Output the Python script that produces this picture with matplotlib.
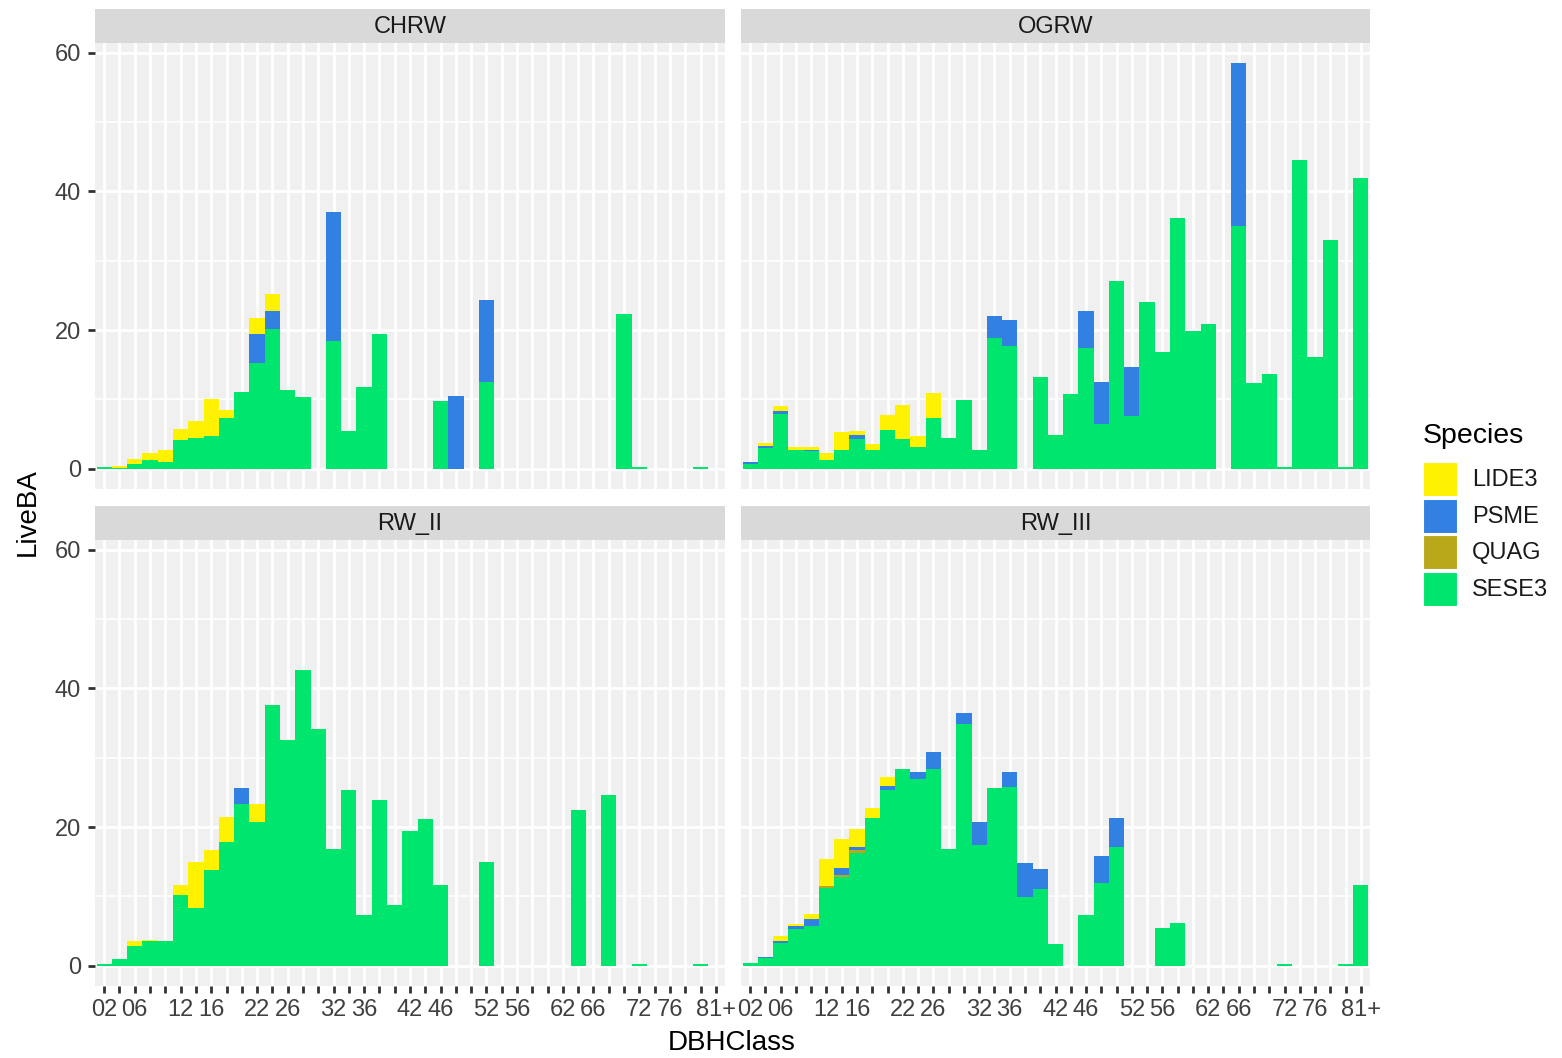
# coding: utf-8

import matplotlib
matplotlib.use("Agg")
import matplotlib.pyplot as plt
from matplotlib.patches import Rectangle

plt.rcParams["font.family"] = ["Liberation Sans", "DejaVu Sans"]

# ---- data: live basal area by DBH class, stacked by species

dbh_class = ["02", "04", "06", "08", "10", "12", "14", "16", "18", "20",
             "22", "24", "26", "28", "30", "32", "34", "36", "38", "40",
             "42", "44", "46", "48", "50", "52", "54", "56", "58", "60",
             "62", "64", "66", "68", "70", "72", "74", "76", "78", "80", "81+"]

dbh_labels = ["02", "", "06", "", "", "12", "", "16", "", "",
              "22", "", "26", "", "", "32", "", "36", "", "",
              "42", "", "46", "", "", "52", "", "56", "", "",
              "62", "", "66", "", "", "72", "", "76", "", "", "81+"]

species = ["LIDE3", "PSME", "QUAG", "SESE3"]
species_color = {"LIDE3": "#FFF200", "PSME": "#3180E2",
                 "QUAG": "#B8A81A", "SESE3": "#00E56E"}

panels = ["CHRW", "OGRW", "RW_II", "RW_III"]

chrw_sese3 = [0.2, 0.15, 0.7, 1.2, 1.0, 4.1, 4.5, 4.7, 7.3, 11.0,
              15.2, 20.1, 11.4, 10.3, 0, 18.4, 5.4, 11.8, 19.5, 0,
              0, 0, 9.7, 0, 0, 12.5, 0, 0, 0, 0,
              0, 0, 0, 0, 22.3, 0.2, 0, 0, 0, 0.2, 0]
chrw_quag = [0] * 41
chrw_psme = [0, 0, 0, 0, 0, 0, 0, 0, 0, 0,
             4.2, 2.6, 0, 0, 0, 18.6, 0, 0, 0, 0,
             0, 0, 0, 10.5, 0, 11.8, 0, 0, 0, 0,
             0, 0, 0, 0, 0, 0, 0, 0, 0, 0, 0]
chrw_lide3 = [0, 0.25, 0.7, 1.1, 1.7, 1.7, 2.4, 5.4, 1.2, 0,
              2.3, 2.5, 0, 0, 0, 0, 0, 0, 0, 0,
              0, 0, 0, 0, 0, 0, 0, 0, 0, 0,
              0, 0, 0, 0, 0, 0, 0, 0, 0, 0, 0]

ogrw_sese3 = [0.7, 3.0, 7.9, 2.7, 2.5, 1.2, 2.7, 4.3, 2.7, 5.6,
              4.3, 3.2, 7.3, 4.5, 9.9, 2.7, 18.8, 17.7, 0, 13.2,
              4.9, 10.8, 17.4, 6.5, 27.1, 7.6, 24.1, 16.9, 36.2, 19.8,
              20.9, 0, 35.0, 12.3, 13.7, 0.2, 44.5, 16.1, 33.0, 0.2, 41.9]
ogrw_quag = [0] * 41
ogrw_psme = [0.3, 0.25, 0.5, 0, 0.25, 0, 0, 0.6, 0, 0,
             0, 0, 0, 0, 0, 0, 3.3, 3.7, 0, 0,
             0, 0, 5.4, 6.0, 0, 7.1, 0, 0, 0, 0,
             0, 0, 23.5, 0, 0, 0, 0, 0, 0, 0, 0]
ogrw_lide3 = [0, 0.45, 0.7, 0.5, 0.4, 1.0, 2.6, 0.6, 0.9, 2.2,
              4.9, 1.45, 3.6, 0, 0, 0, 0, 0, 0, 0,
              0, 0, 0, 0, 0, 0, 0, 0, 0, 0,
              0, 0, 0, 0, 0, 0, 0, 0, 0, 0, 0]

rw2_sese3 = [0.3, 1.0, 2.9, 3.5, 3.6, 10.2, 8.4, 13.8, 17.8, 23.4,
             20.8, 37.6, 32.5, 42.6, 34.1, 16.8, 25.4, 7.3, 23.9, 8.8,
             19.5, 21.2, 11.6, 0, 0, 14.9, 0, 0, 0, 0,
             0, 22.5, 0, 24.7, 0, 0.2, 0, 0, 0, 0.2, 0]
rw2_quag = [0] * 41
rw2_psme = [0, 0, 0, 0, 0, 0, 0, 0, 0, 2.2,
            0, 0, 0, 0, 0, 0, 0, 0, 0, 0,
            0, 0, 0, 0, 0, 0, 0, 0, 0, 0,
            0, 0, 0, 0, 0, 0, 0, 0, 0, 0, 0]
rw2_lide3 = [0, 0, 0.7, 0.25, 0, 1.4, 6.5, 2.9, 3.6, 0,
             2.6, 0, 0, 0, 0, 0, 0, 0, 0, 0,
             0, 0, 0, 0, 0, 0, 0, 0, 0, 0,
             0, 0, 0, 0, 0, 0, 0, 0, 0, 0, 0]

rw3_sese3 = [0.33, 1.05, 3.35, 5.35, 5.8, 11.2, 12.8, 16.3, 21.3, 25.4,
             28.4, 26.9, 28.4, 16.9, 34.9, 17.4, 25.6, 25.8, 9.95, 11.0,
             3.2, 0, 7.3, 12.0, 17.1, 0, 0, 5.4, 6.1, 0,
             0, 0, 0, 0, 0, 0.2, 0, 0, 0, 0.2, 11.7]
rw3_quag = [0, 0, 0, 0, 0, 0.3, 0.25, 0.35, 0, 0,
            0, 0, 0, 0, 0, 0, 0, 0, 0, 0,
            0, 0, 0, 0, 0, 0, 0, 0, 0, 0,
            0, 0, 0, 0, 0, 0, 0, 0, 0, 0, 0]
rw3_psme = [0, 0.25, 0.25, 0.4, 0.9, 0, 1.0, 0.5, 0, 0.6,
            0, 1.1, 2.5, 0, 1.5, 3.4, 0, 2.2, 4.8, 2.9,
            0, 0, 0, 3.8, 4.2, 0, 0, 0, 0, 0,
            0, 0, 0, 0, 0, 0, 0, 0, 0, 0, 0]
rw3_lide3 = [0, 0, 0.7, 0.25, 0.8, 3.9, 4.2, 2.6, 1.4, 1.3,
             0, 0, 0, 0, 0, 0, 0, 0, 0, 0,
             0, 0, 0, 0, 0, 0, 0, 0, 0, 0,
             0, 0, 0, 0, 0, 0, 0, 0, 0, 0, 0]

panel_data = {
    "CHRW": {"SESE3": chrw_sese3, "QUAG": chrw_quag, "PSME": chrw_psme, "LIDE3": chrw_lide3},
    "OGRW": {"SESE3": ogrw_sese3, "QUAG": ogrw_quag, "PSME": ogrw_psme, "LIDE3": ogrw_lide3},
    "RW_II": {"SESE3": rw2_sese3, "QUAG": rw2_quag, "PSME": rw2_psme, "LIDE3": rw2_lide3},
    "RW_III": {"SESE3": rw3_sese3, "QUAG": rw3_quag, "PSME": rw3_psme, "LIDE3": rw3_lide3},
}

W, H = 1562.0, 1058.0

# panel boxes in pixels: left, top, right, bottom
panel_box = {
    "CHRW": (95, 43, 725, 489),
    "OGRW": (741, 43, 1370, 489),
    "RW_II": (95, 540, 725, 986),
    "RW_III": (741, 540, 1370, 986),
}
STRIP_H = 34


def fig_rect(l, t, r, b):
    return [l / W, 1 - b / H, (r - l) / W, (b - t) / H]


def stack_totals():
    tot = []
    for p in panels:
        d = panel_data[p]
        for i in range(len(dbh_class)):
            tot.append(sum(d[s][i] for s in species))
    return max(tot)


def draw_panel(fig, name, ymax, show_x, show_y):
    l, t, r, b = panel_box[name]
    ax = fig.add_axes(fig_rect(l, t, r, b))
    ax.set_facecolor("#F0F0F0")
    for sp in ax.spines.values():
        sp.set_visible(False)

    x = list(range(len(dbh_class)))
    bottom = [0.0] * len(dbh_class)
    # bottom-up stacking: last factor level sits at the base
    for s in reversed(species):
        vals = panel_data[name][s]
        ax.bar(x, vals, width=1.0, bottom=bottom, color=species_color[s],
               linewidth=0, zorder=3)
        bottom = [bb + v for bb, v in zip(bottom, vals)]

    pad = 0.05 * ymax
    ax.set_ylim(-pad, ymax + pad)
    ax.set_xlim(-0.6, len(dbh_class) - 0.4)

    ax.set_xticks(x)
    ax.set_xticklabels(dbh_labels)
    ax.set_yticks([0, 20, 40, 60])
    ax.set_yticks([10, 30, 50], minor=True)
    ax.grid(which="major", color="white", linewidth=2.0, zorder=1)
    ax.grid(which="minor", axis="y", color="white", linewidth=1.1, zorder=1)
    ax.set_axisbelow(True)

    ax.tick_params(axis="both", which="major", color="#333333", width=2.0,
                   length=5, labelsize=17, labelcolor="#404040")
    ax.tick_params(axis="y", which="minor", length=0)
    ax.tick_params(axis="x", pad=4.5)
    ax.tick_params(axis="y", pad=5)
    if not show_x:
        ax.tick_params(axis="x", length=0, labelbottom=False)
    if not show_y:
        ax.tick_params(axis="y", length=0, labelleft=False)

    # facet strip
    sax = fig.add_axes(fig_rect(l, t - STRIP_H, r, t))
    sax.set_facecolor("#D9D9D9")
    sax.set_xticks([])
    sax.set_yticks([])
    for sp in sax.spines.values():
        sp.set_visible(False)
    sax.text(0.5, 0.47, name, ha="center", va="center", fontsize=17,
             color="#1A1A1A", transform=sax.transAxes)
    return ax


def draw_legend(fig):
    fig.text(1423 / W, 1 - 436 / H, "Species", fontsize=20.5, ha="left",
             va="center", color="black")
    key_top = [462, 499, 535, 572]
    for s, kt in zip(species, key_top):
        fig.add_artist(Rectangle((1423 / W, 1 - (kt + 34) / H), 34 / W, 34 / H,
                                 transform=fig.transFigure,
                                 facecolor=species_color[s], edgecolor="white",
                                 linewidth=0.8))
        fig.text(1472 / W, 1 - (kt + 18) / H, s, fontsize=17, ha="left",
                 va="center", color="#1A1A1A")


def main():
    fig = plt.figure(figsize=(W / 100, H / 100), dpi=100)
    fig.patch.set_facecolor("white")

    ymax = stack_totals()
    draw_panel(fig, "CHRW", ymax, show_x=False, show_y=True)
    draw_panel(fig, "OGRW", ymax, show_x=False, show_y=False)
    draw_panel(fig, "RW_II", ymax, show_x=True, show_y=True)
    draw_panel(fig, "RW_III", ymax, show_x=True, show_y=False)

    fig.text(28 / W, 1 - 512 / H, "LiveBA", rotation=90, fontsize=20,
             ha="center", va="center", color="black")
    fig.text(732 / W, 1 - 1043 / H, "DBHClass", fontsize=20,
             ha="center", va="center", color="black")

    draw_legend(fig)

    fig.savefig("out.png", dpi=100)


### MAIN ####
if __name__ == '__main__':
    main()
